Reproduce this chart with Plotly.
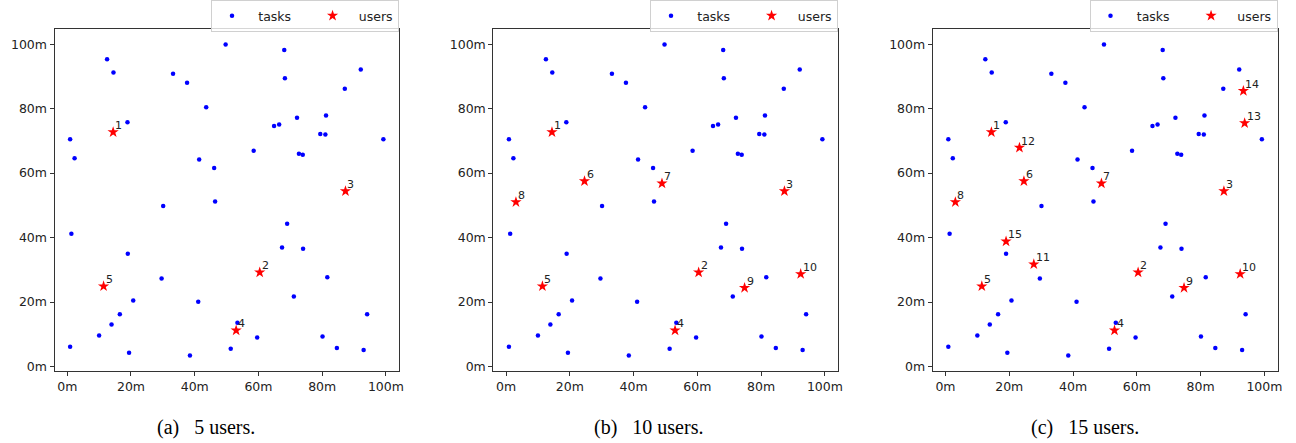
import plotly.graph_objects as go

# ---- data (metres) ----
tasks_x = [12.5, 14.5, 33.2, 37.6, 49.7, 68.1, 68.3, 92.1, 87.1, 43.6,
           72.1, 81.2, 18.9, 64.9, 66.5, 79.4, 81.0, 99.2, 0.9, 2.3,
           41.4, 46.1, 58.5, 72.7, 73.9, 46.4, 30.1, 69.0, 1.3, 19.0,
           67.4, 74.0, 29.6, 81.6, 20.7, 41.1, 71.1, 16.5, 94.1, 13.9,
           53.4, 10.0, 59.6, 80.1, 0.9, 19.4, 38.5, 51.3, 84.6, 93.0]
tasks_y = [95.3, 91.2, 90.8, 88.0, 99.9, 98.2, 89.4, 92.1, 86.2, 80.4,
           77.2, 77.9, 75.8, 74.6, 75.1, 72.1, 72.0, 70.5, 70.5, 64.6,
           64.2, 61.6, 66.9, 66.0, 65.7, 51.2, 49.8, 44.3, 41.2, 35.0,
           36.9, 36.5, 27.3, 27.7, 20.5, 20.1, 21.7, 16.2, 16.2, 13.0,
           13.6, 9.6, 9.0, 9.3, 6.1, 4.3, 3.4, 5.5, 5.7, 5.1]

users_x = [14.4, 60.4, 87.3, 53.0, 11.4, 24.6, 48.9, 3.1, 74.8, 92.4,
           27.7, 23.2, 93.8, 93.4, 19.0]
users_y = [72.7, 29.2, 54.4, 11.2, 24.9, 57.5, 56.8, 51.0, 24.4, 28.7,
           31.7, 67.9, 75.5, 85.5, 38.8]
user_labels = [str(i) for i in range(1, 16)]

panel_users = [5, 10, 15]
captions = ["(a)\u2002\u00a05 users.", "(b)\u2002\u00a010 users.", "(c)\u2002\u00a015 users."]
series_names = ["\u2002tasks\u2002\u2002\u00a0", "\u2002users"]
tick_vals = [0, 20, 40, 60, 80, 100]
tick_text = ["0m", "20m", "40m", "60m", "80m", "100m"]

W, H = 1296, 443
x_domains = [(54.5 / W, 399 / W), (493.3 / W, 838 / W), (932.7 / W, 1277.5 / W)]
y_domain = (72 / H, 414 / H)
caption_x = [206 / W, 648 / W, 1085 / W]

fig = go.Figure()
annotations = []
for i, n in enumerate(panel_users):
    sfx = "" if i == 0 else str(i + 1)
    leg = "legend" if i == 0 else "legend" + str(i + 1)
    fig.add_trace(go.Scatter(
        x=tasks_x, y=tasks_y, mode="markers", name=series_names[0],
        marker=dict(color="blue", size=4.5, line=dict(width=0)),
        xaxis="x" + sfx, yaxis="y" + sfx, legend=leg))
    fig.add_trace(go.Scatter(
        x=users_x[:n], y=users_y[:n], mode="markers", name=series_names[1],
        marker=dict(color="red", size=8.5, symbol="star", line=dict(width=0)),
        xaxis="x" + sfx, yaxis="y" + sfx, legend=leg))
    for k in range(n):
        annotations.append(dict(
            x=users_x[k], y=users_y[k], xref="x" + sfx, yref="y" + sfx,
            text=user_labels[k], showarrow=False, xanchor="left", yanchor="bottom",
            xshift=0, yshift=-2,
            font=dict(family="DejaVu Sans", size=11, color="#222")))
    annotations.append(dict(
        x=caption_x[i], y=(H - 427) / H, xref="paper", yref="paper",
        text=captions[i], showarrow=False, xanchor="center", yanchor="middle",
        font=dict(family="Liberation Serif", size=20, color="black")))

    axis_common = dict(
        showline=True, mirror=True, linecolor="#333", linewidth=1,
        ticks="outside", ticklen=4, tickcolor="#333", tickwidth=1,
        showgrid=False, zeroline=False,
        tickvals=tick_vals, ticktext=tick_text,
        tickfont=dict(family="DejaVu Sans", size=12.5, color="#222"))
    fig.update_layout(**{
        "xaxis" + sfx: dict(domain=list(x_domains[i]), range=[-4.0, 104.1],
                            anchor="y" + sfx, **axis_common),
        "yaxis" + sfx: dict(domain=list(y_domain), range=[-1.4, 104.7],
                            anchor="x" + sfx, **axis_common),
        leg: dict(orientation="h", x=x_domains[i][1], xanchor="right",
                  y=1.0, yanchor="top",
                  bgcolor="rgba(255,255,255,0.8)", bordercolor="#d0d0d0", borderwidth=1,
                  font=dict(family="DejaVu Sans", size=12.5, color="#222"),
                  itemsizing="trace"),
    })

fig.update_layout(
    width=W, height=H, margin=dict(l=0, r=0, t=0, b=0, autoexpand=False),
    paper_bgcolor="white", plot_bgcolor="white",
    showlegend=True, annotations=annotations)

fig.write_html("out.html")
